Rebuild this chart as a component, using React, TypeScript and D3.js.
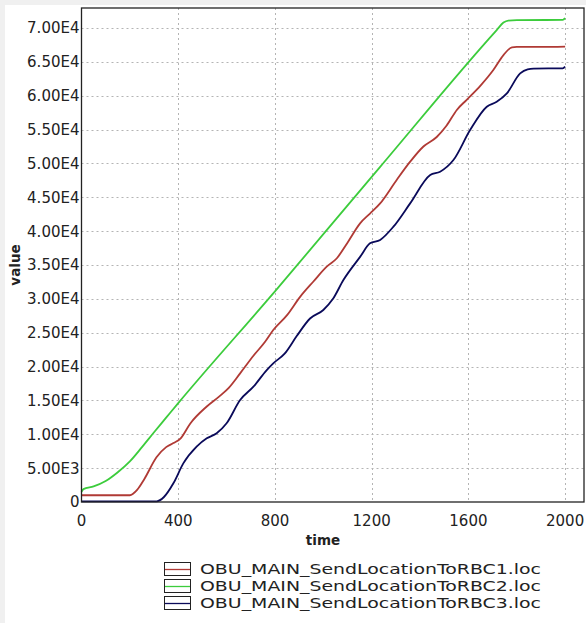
import React, { useEffect, useRef } from "react";
import * as d3 from "d3";

const seriesNames = [
  "OBU_MAIN_SendLocationToRBC1.loc",
  "OBU_MAIN_SendLocationToRBC2.loc",
  "OBU_MAIN_SendLocationToRBC3.loc",
];
const seriesColors = ["#b03a35", "#3ccc3c", "#0a0a5a"];

const xTicks = [0, 400, 800, 1200, 1600, 2000];
const yTicks = [0, 5000, 10000, 15000, 20000, 25000, 30000, 35000, 40000, 45000, 50000, 55000, 60000, 65000, 70000];
const yTickLabels = ["0", "5.00E3", "1.00E4", "1.50E4", "2.00E4", "2.50E4", "3.00E4", "3.50E4", "4.00E4", "4.50E4", "5.00E4", "5.50E4", "6.00E4", "6.50E4", "7.00E4"];

const redT = [0, 200, 230, 260, 310, 350, 380, 410, 450, 518, 570, 610, 656, 711, 760, 793, 850, 904, 960, 1014, 1056, 1100, 1152, 1193, 1235, 1304, 1360, 1414, 1469, 1510, 1552, 1593, 1650, 1703, 1745, 1780, 1800, 1900, 2000];
const redV = [1000, 1000, 1800, 3400, 6600, 8100, 8700, 9400, 11600, 14100, 15600, 16900, 19000, 21600, 23700, 25400, 27600, 30300, 32600, 34750, 36000, 38300, 41150, 42600, 44100, 47600, 50300, 52500, 53900, 55600, 57900, 59400, 61500, 63800, 66000, 67150, 67200, 67200, 67250];

const greenT = [0, 8, 50, 100, 150, 200, 250, 300, 350, 400, 800, 1235, 1717, 1745, 1765, 1800, 1990, 2000];
const greenV = [1500, 1900, 2300, 3100, 4400, 6000, 8100, 10300, 12450, 14600, 31100, 49500, 69700, 70800, 71100, 71150, 71200, 71450];

const blueT = [0, 311, 340, 380, 421, 476, 518, 559, 600, 656, 711, 766, 793, 840, 890, 945, 1000, 1040, 1083, 1152, 1193, 1235, 1290, 1359, 1442, 1483, 1538, 1607, 1676, 1717, 1759, 1814, 1845, 1870, 1990, 2000];
const blueV = [100, 100, 700, 2760, 5700, 8170, 9400, 10150, 11620, 15060, 17030, 19490, 20480, 21900, 24500, 27100, 28350, 30000, 32780, 36200, 38200, 38700, 40660, 44100, 48290, 48780, 50500, 54930, 58370, 59100, 60340, 63300, 63900, 64000, 64050, 64300];

const seriesT = [redT, greenT, blueT];
const seriesV = [redV, greenV, blueV];

const W = 586;
const H = 623;
const plot = { left: 81.5, top: 8, right: 584, bottom: 502 };
const FONT = "'DejaVu Sans', Verdana, sans-serif";

export default function App() {
  const ref = useRef<SVGSVGElement>(null);

  useEffect(() => {
    document.body.style.margin = "0";
    const svg = d3.select(ref.current);
    svg.selectAll("*").remove();

    const x = d3.scaleLinear().domain([0, 2078]).range([plot.left, plot.right]);
    const y = d3.scaleLinear().domain([0, 70000]).range([plot.bottom, 28]);

    svg.append("rect").attr("width", W).attr("height", H).attr("fill", "#f0f0f0");
    svg.append("rect").attr("x", 5).attr("y", 5).attr("width", W - 5).attr("height", H - 5).attr("fill", "#ffffff");

    // grid
    const g = svg.append("g");
    yTicks.forEach((t) => {
      if (t === 0) return;
      g.append("line")
        .attr("x1", plot.left).attr("x2", plot.right)
        .attr("y1", Math.round(y(t)) + 0.5).attr("y2", Math.round(y(t)) + 0.5)
        .attr("stroke", "#b4b4b4").attr("stroke-width", 1).attr("stroke-dasharray", "2,3");
    });
    xTicks.forEach((t) => {
      if (t === 0) return;
      g.append("line")
        .attr("x1", Math.round(x(t)) + 0.5).attr("x2", Math.round(x(t)) + 0.5)
        .attr("y1", plot.top).attr("y2", plot.bottom)
        .attr("stroke", "#b4b4b4").attr("stroke-width", 1).attr("stroke-dasharray", "2,3");
    });

    // lines
    const line = d3.line<[number, number]>()
      .x((d) => x(d[0]))
      .y((d) => y(d[1]))
      .curve(d3.curveMonotoneX);
    seriesT.forEach((ts, i) => {
      const pts: [number, number][] = ts.map((t, j) => [t, seriesV[i][j]]);
      svg.append("path")
        .attr("d", line(pts) as string)
        .attr("fill", "none")
        .attr("stroke", seriesColors[i])
        .attr("stroke-width", 1.8)
        .attr("stroke-linejoin", "round");
    });

    // frame
    svg.append("rect")
      .attr("x", plot.left).attr("y", plot.top)
      .attr("width", plot.right - plot.left).attr("height", plot.bottom - plot.top)
      .attr("fill", "none").attr("stroke", "#222").attr("stroke-width", 1.3);

    // y tick labels
    yTicks.forEach((t, i) => {
      svg.append("text")
        .attr("x", plot.left - 2).attr("y", y(t))
        .attr("dy", "0.36em")
        .attr("text-anchor", "end")
        .attr("font-family", FONT).attr("font-size", 15).attr("fill", "#222")
        .text(yTickLabels[i]);
    });
    // x tick labels
    xTicks.forEach((t) => {
      svg.append("text")
        .attr("x", x(t)).attr("y", 526)
        .attr("text-anchor", "middle")
        .attr("font-family", FONT).attr("font-size", 15).attr("fill", "#222")
        .text(String(t));
    });

    // axis titles
    svg.append("text")
      .attr("x", 323).attr("y", 545)
      .attr("text-anchor", "middle")
      .attr("font-family", FONT).attr("font-size", 13.5).attr("font-weight", "bold").attr("fill", "#222")
      .text("time");
    svg.append("text")
      .attr("transform", "translate(20,265) rotate(-90)")
      .attr("text-anchor", "middle")
      .attr("font-family", FONT).attr("font-size", 13.5).attr("font-weight", "bold").attr("fill", "#222")
      .text("value");

    // legend
    seriesNames.forEach((name, i) => {
      const cy = 569 + i * 17;
      svg.append("rect")
        .attr("x", 164.5).attr("y", cy - 6.5)
        .attr("width", 26).attr("height", 13)
        .attr("fill", "#fff").attr("stroke", "#222").attr("stroke-width", 1);
      svg.append("line")
        .attr("x1", 165).attr("x2", 190)
        .attr("y1", cy + 0.5).attr("y2", cy + 0.5)
        .attr("stroke", seriesColors[i]).attr("stroke-width", 1.3);
      svg.append("text")
        .attr("x", 200).attr("y", cy)
        .attr("dy", "0.36em")
        .attr("font-family", FONT).attr("font-size", 14.5).attr("fill", "#222")
        .attr("textLength", 341).attr("lengthAdjust", "spacingAndGlyphs")
        .text(name);
    });
  }, []);

  return (
    <svg
      ref={ref}
      width={W}
      height={H}
      style={{ position: "absolute", left: 0, top: 0, display: "block" }}
    />
  );
}
